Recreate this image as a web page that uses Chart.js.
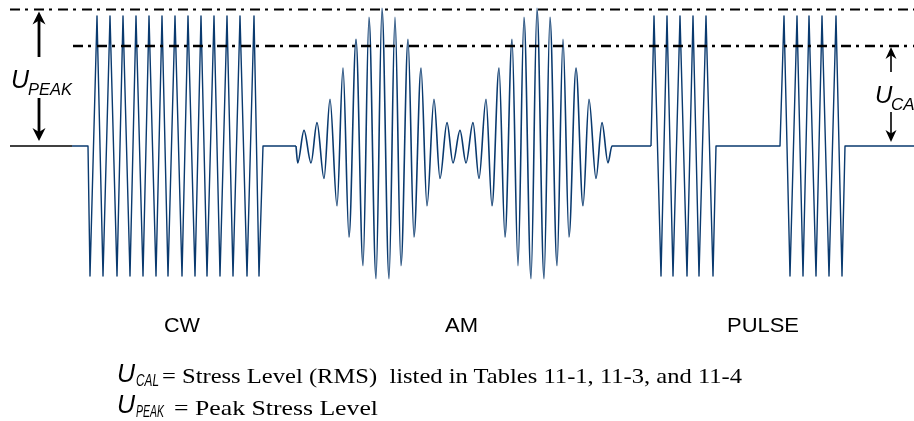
<!DOCTYPE html>
<html>
<head>
<meta charset="utf-8">
<script src="https://cdn.jsdelivr.net/npm/chart.js@4/dist/chart.umd.min.js"></script>
<style>
  html, body { margin: 0; padding: 0; background: #fff; overflow: hidden; }
  #wrap { position: relative; width: 914px; height: 421px; overflow: hidden; }
  #c { position: absolute; left: 0; top: 0; }
  .t { position: absolute; white-space: pre; line-height: 1; color: #000; transform-origin: 0 0; }
  .sans { font-family: "Liberation Sans", Arial, sans-serif; }
  .serif { font-family: "Liberation Serif", "Times New Roman", serif; }
  .it { font-style: italic; }
</style>
</head>
<body>
<div id="wrap">
  <canvas id="c" width="914" height="421"></canvas>

  <!-- left U_PEAK label -->
  <div class="t sans it" data-base="88" data-size="25" style="left:11px">U</div>
  <div class="t sans it" data-base="95" data-size="17" data-w="44" style="left:28px">PEAK</div>

  <!-- right U_CAL label, clipped at the edge -->
  <div class="t sans it" data-base="103" data-size="24" style="left:875px">U</div>
  <div class="t sans it" data-base="110" data-size="17" style="left:891px">CAL</div>

  <!-- waveform names -->
  <div class="t sans" data-base="332" data-size="20" data-w="36" style="left:164px">CW</div>
  <div class="t sans" data-base="332" data-size="20" data-w="33" style="left:445px">AM</div>
  <div class="t sans" data-base="332" data-size="20" data-w="72" style="left:727px">PULSE</div>

  <!-- legend lines -->
  <div class="t sans it" data-base="382" data-size="25" style="left:117px">U</div>
  <div class="t sans it" data-base="386" data-size="17" data-w="23" style="left:136px">CAL</div>
  <div class="t serif" data-base="383" data-size="22" data-w="580" style="left:162px">= Stress Level (RMS)  listed in Tables 11-1, 11-3, and 11-4</div>

  <div class="t sans it" data-base="413" data-size="25" style="left:117px">U</div>
  <div class="t sans it" data-base="417" data-size="17" data-w="28" style="left:136px">PEAK</div>
  <div class="t serif" data-base="415" data-size="22" data-w="204" style="left:174px">= Peak Stress Level</div>
</div>

<script>
// signal levels, 1 = peak of the CW carrier, 0 = rest level
const peakLevel = 1.05;
const calLevel = 0.77;

// CW burst (x = time along the page, y = level)
const cwTime = [72, 88, 90, 97, 103, 110, 117, 123, 130, 136, 143, 149, 156, 162, 168, 175, 182, 188, 195, 201,
  207, 214, 220, 227, 233, 240, 247, 254, 259, 263, 296];
const cwLevel = [0, 0, -1, 1, -1, 1, -1, 1, -1, 1, -1, 1, -1, 1, -1, 1, -1, 1, -1, 1,
  -1, 1, -1, 1, -1, 1, -1, 1, -1, 0, 0];

// AM burst, two envelope lobes
const amTime = [296, 297.7, 304, 311, 317, 324, 330, 337, 343, 349, 356, 363, 369, 376, 382, 389, 395, 401, 408,
  414, 421, 427, 434, 440, 447, 453, 460, 466, 473, 479, 486, 492, 499, 505, 512, 518, 524, 531, 537, 544,
  550, 557, 563, 569, 576, 583, 589, 596, 602, 608, 612, 651];
const amLevel = [0, -0.13, 0.12, -0.13, 0.18, -0.25, 0.36, -0.46, 0.60, -0.70, 0.82, -0.92, 0.99, -1.02, 1.06, -1.02, 0.99, -0.92, 0.82,
  -0.70, 0.60, -0.46, 0.36, -0.25, 0.18, -0.13, 0.12, -0.13, 0.18, -0.25, 0.36, -0.46, 0.60, -0.70, 0.82, -0.92,
  0.99, -1.02, 1.06, -1.02, 0.99, -0.92, 0.82, -0.70, 0.60, -0.46, 0.36, -0.25, 0.18, -0.13, 0, 0];

// two pulses
const pulseTime = [651, 654, 661, 667, 673, 680, 687, 693, 699, 706, 713, 716, 780, 784, 790, 797, 803, 809, 816,
  822, 829, 836, 842, 845, 914];
const pulseLevel = [0, 1, -1, 1, -1, 1, -1, 1, -1, 1, -1, 0, 0, 1, -1, 1, -1, 1, -1,
  1, -1, 1, -1, 0, 0];

// reference lines
const peakLineTime = [10, 914];
const calLineTime = [73, 914];
const restLineTime = [10, 72];

function pts(xs, ys) {
  return xs.map((x, i) => ({ x: x, y: ys[i] }));
}
function flat(xs, v) {
  return xs.map(x => ({ x: x, y: v }));
}

const blue = '#0a3a6f';

// arrows for U_PEAK and U_CAL
const arrowPlugin = {
  id: 'arrows',
  afterDatasetsDraw(chart) {
    const ctx = chart.ctx;
    const xs = chart.scales.x, ys = chart.scales.y;
    const top = ys.getPixelForValue(peakLevel);
    const cal = ys.getPixelForValue(calLevel);
    const rest = ys.getPixelForValue(0);

    function arrow(x, from, to, len, half, lw) {
      const dir = to < from ? -1 : 1;
      ctx.save();
      ctx.strokeStyle = '#000';
      ctx.fillStyle = '#000';
      ctx.lineWidth = lw;
      ctx.beginPath();
      ctx.moveTo(x, from);
      ctx.lineTo(x, to - dir * len * 0.6);
      ctx.stroke();
      ctx.beginPath();
      ctx.moveTo(x, to);
      ctx.lineTo(x - half, to - dir * len);
      ctx.lineTo(x, to - dir * len * 0.7);
      ctx.lineTo(x + half, to - dir * len);
      ctx.closePath();
      ctx.fill();
      ctx.restore();
    }

    const lx = xs.getPixelForValue(39);
    arrow(lx, 57, top + 2, 13, 6.5, 2.8);
    arrow(lx, 98, rest - 5, 13, 6.5, 2.8);

    const rx = xs.getPixelForValue(891);
    arrow(rx, 72, cal + 1, 12, 5.5, 1.6);
    arrow(rx, 112, rest - 4, 12, 5.5, 1.6);
  }
};

new Chart(document.getElementById('c').getContext('2d'), {
  type: 'line',
  data: {
    datasets: [
      {
        label: 'U peak',
        data: flat(peakLineTime, peakLevel),
        borderColor: '#000',
        borderWidth: 1.9,
        borderDash: [10, 5, 3, 6]
      },
      {
        label: 'U cal',
        data: flat(calLineTime, calLevel),
        borderColor: '#000',
        borderWidth: 2.5,
        borderDash: [10, 5, 3, 6]
      },
      {
        label: 'rest',
        data: flat(restLineTime, 0),
        borderColor: '#000',
        borderWidth: 1.3
      },
      {
        label: 'CW',
        data: pts(cwTime, cwLevel),
        borderColor: blue,
        borderWidth: 1.4,
        borderJoinStyle: 'round'
      },
      {
        label: 'AM',
        data: pts(amTime, amLevel),
        borderColor: blue,
        borderWidth: 1.6,
        cubicInterpolationMode: 'monotone'
      },
      {
        label: 'PULSE',
        data: pts(pulseTime, pulseLevel),
        borderColor: blue,
        borderWidth: 1.4,
        borderJoinStyle: 'round'
      }
    ]
  },
  options: {
    responsive: false,
    animation: false,
    devicePixelRatio: 1,
    layout: { padding: 0 },
    elements: { point: { radius: 0 } },
    plugins: { legend: { display: false }, tooltip: { enabled: false } },
    scales: {
      x: { type: 'linear', min: 0, max: 914, display: false },
      y: { type: 'linear', min: -275 / 130, max: 146 / 130, display: false }
    }
  },
  plugins: [arrowPlugin]
});

// place texts on their baselines and squeeze them to the reference widths
document.querySelectorAll('.t').forEach(el => {
  const size = +el.dataset.size;
  el.style.fontSize = size + 'px';
  const asc = el.classList.contains('serif') ? 0.8375 : 0.8465;
  el.style.top = (+el.dataset.base - asc * size) + 'px';
  if (el.dataset.w) {
    const w = el.getBoundingClientRect().width;
    el.style.transform = 'scaleX(' + (+el.dataset.w / w) + ')';
  }
});
</script>
</body>
</html>
